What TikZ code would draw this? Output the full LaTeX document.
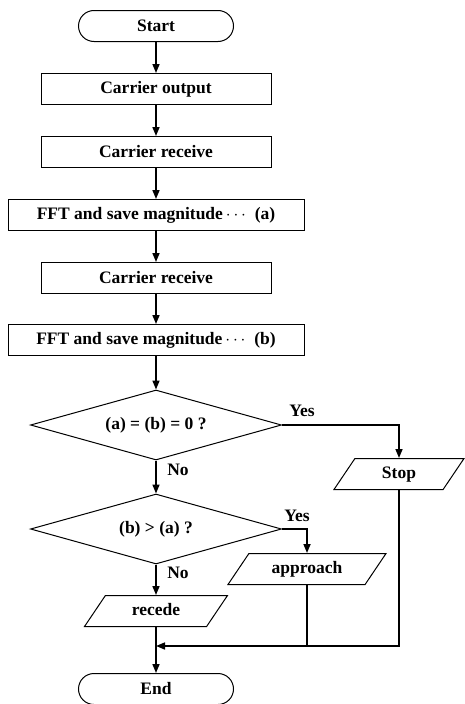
\documentclass[tikz,border=0pt]{standalone}
\usepackage{fontspec}
\setmainfont{Liberation Serif}
\usetikzlibrary{shapes.geometric,arrows.meta}
\begin{document}
\begin{tikzpicture}[x=1pt, y=-1pt, >={Triangle[length=9pt,width=7pt]}, font=\fontsize{17.5}{20}\selectfont\bfseries]
    \tikzset{box/.style={draw, line width=1pt, minimum width=230pt, minimum height=31pt, inner sep=0pt, align=center},
        widebox/.style={box, minimum width=296pt},
        term/.style={box, rounded corners=15.5pt, minimum width=155pt},
        io/.style={draw, line width=1pt, trapezium, trapezium left angle=56, trapezium right angle=124, trapezium stretches body, text height=12pt, text depth=4pt, inner xsep=0pt, inner ysep=7.5pt},
        test/.style={draw, line width=1pt, diamond, aspect=3.6, minimum width=251pt, minimum height=70pt, inner sep=0pt},
        flow/.style={line width=1.6pt}}
    \useasboundingbox (0,0) rectangle (464,704);
    \node[term] (start) at (156,26) {Start};
    \node[box] (output) at (156,89) {Carrier output};
    \node[box] (recvA) at (156,152) {Carrier receive};
    \node[widebox] (fftA) at (156,215) {FFT and save magnitude\,$\cdots$\enspace (a)};
    \node[box] (recvB) at (156,278) {Carrier receive};
    \node[widebox] (fftB) at (156,340) {FFT and save magnitude\,$\cdots$\enspace (b)};
    \node[test] (zero) at (156,425) {(a) = (b) = 0 ?};
    \node[test] (greater) at (156,529) {(b) > (a) ?};
    \node[io, minimum width=130pt] (stop) at (399,474) {Stop};
    \node[io, minimum width=158pt] (approach) at (307,569) {approach};
    \node[io, minimum width=143pt] (recede) at (156,611) {recede};
    \node[term] (end) at (156,689) {End};
    \node (yesA) at (302,411) {Yes};
    \node (noA) at (178,470) {No};
    \node (yesB) at (297,516) {Yes};
    \node (noB) at (178,573) {No};
    \coordinate (join) at (156,646);
    \draw[flow, ->] (start) -- (output);
    \draw[flow, ->] (output) -- (recvA);
    \draw[flow, ->] (recvA) -- (fftA);
    \draw[flow, ->] (fftA) -- (recvB);
    \draw[flow, ->] (recvB) -- (fftB);
    \draw[flow, ->] (fftB) -- (zero);
    \draw[flow, ->] (zero.east) -| (stop.north);
    \draw[flow, ->] (zero) -- (greater);
    \draw[flow, ->] (greater.east) -| (approach.north);
    \draw[flow, ->] (greater) -- (recede);
    \draw[flow, ->] (stop.south) |- (join);
    \draw[flow] (approach.south) -- (approach.south |- join);
    \draw[flow, ->] (recede) -- (end);
\end{tikzpicture}
\end{document}
